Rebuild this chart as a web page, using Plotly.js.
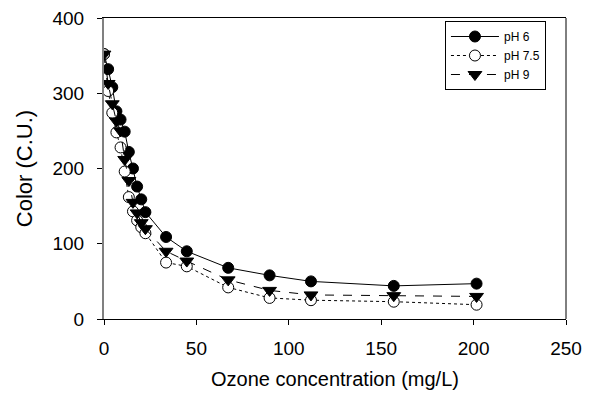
<!DOCTYPE html>
<html>
<head>
<meta charset="utf-8">
<script src="https://cdn.plot.ly/plotly-3.0.1.min.js"></script>
<style>html,body{margin:0;padding:0;background:#fff;}#chart{width:594px;height:397px;}</style>
</head>
<body>
<div id="chart"></div>
<script>
const ozoneDose = [0, 2.24, 4.48, 6.72, 8.96, 11.2, 13.44, 15.68, 17.92, 20.16, 22.4, 33.6, 44.8, 67.2, 89.6, 112, 156.8, 201.6];
const colorPH6 = [352, 332, 308, 276, 265, 249, 222, 200, 176, 159, 142, 109, 90, 68, 58, 50, 44, 47];
const colorPH75 = [352, 303, 274, 248, 228, 196, 162, 143, 131, 122, 114, 75, 70, 42, 28, 25, 23, 19];
const colorPH9 = [352, 313, 286, 263, 250, 212, 184, 155, 141, 128, 120, 90, 77, 52, 38, 32, 31, 30];
const seriesNames = ["pH 6", "pH 7.5", "pH 9"];
const xTicks = [0, 50, 100, 150, 200, 250];
const yTicks = [0, 100, 200, 300, 400];

const font = "Liberation Sans, Arial, sans-serif";
const traces = [
  {x: ozoneDose, y: colorPH6, name: seriesNames[0], mode: "lines+markers",
   line: {color: "#000", width: 1, dash: "solid"},
   marker: {symbol: "circle", size: 11, color: "#000", line: {color: "#000", width: 1}}},
  {x: ozoneDose, y: colorPH75, name: seriesNames[1], mode: "lines+markers",
   line: {color: "#000", width: 1, dash: "dot"},
   marker: {symbol: "circle", size: 11, color: "#fff", line: {color: "#000", width: 1}}},
  {x: ozoneDose, y: colorPH9, name: seriesNames[2], mode: "lines+markers",
   line: {color: "#000", width: 1, dash: "dash"},
   marker: {symbol: "triangle-down", size: 12, color: "#000", line: {color: "#000", width: 1}}}
];
const layout = {
  width: 594, height: 397,
  margin: {l: 104, r: 28, t: 18, b: 78},
  paper_bgcolor: "#fff", plot_bgcolor: "#fff",
  font: {family: font, color: "#000"},
  showlegend: true,
  legend: {x: 0.738, y: 0.99, xanchor: "left", yanchor: "top",
    bordercolor: "#000", borderwidth: 1, bgcolor: "#fff",
    font: {family: font, size: 12}, itemwidth: 48, tracegroupgap: 0},
  xaxis: {range: [0, 250], tickvals: xTicks, ticks: "outside", ticklen: 5, tickcolor: "#000",
    showline: true, linecolor: "#000", linewidth: 1, mirror: true, showgrid: false, zeroline: false,
    tickfont: {family: font, size: 19}, ticklabelstandoff: 7,
    title: {text: "Ozone concentration (mg/L)", font: {family: font, size: 20}, standoff: 14}},
  yaxis: {range: [0, 400], tickvals: yTicks, ticks: "outside", ticklen: 5, tickcolor: "#000",
    showline: true, linecolor: "#808080", linewidth: 2, showgrid: false, zeroline: false,
    tickfont: {family: font, size: 19}, ticklabelstandoff: 9,
    title: {text: "Color (C.U.)", font: {family: font, size: 22}, standoff: 14}},
  shapes: [{type: "line", xref: "paper", yref: "paper", x0: 1, x1: 1, y0: 0, y1: 1,
    line: {color: "#000", width: 1}}]
};
Plotly.newPlot("chart", traces, layout, {displayModeBar: false, staticPlot: true});
</script>
</body>
</html>
